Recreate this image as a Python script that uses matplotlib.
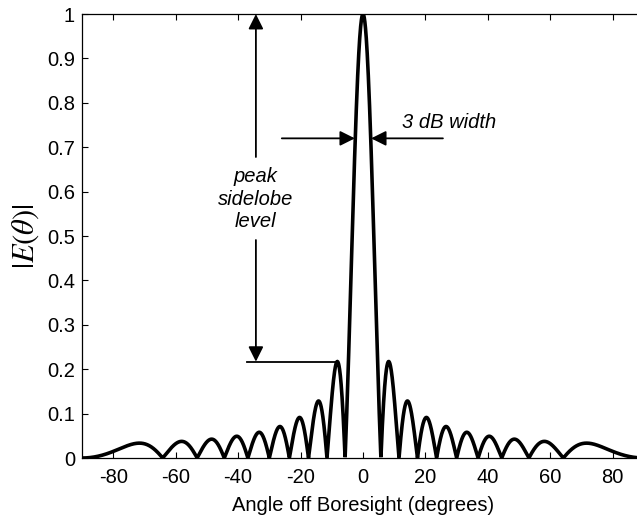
import numpy as np
import matplotlib
matplotlib.use("Agg")
import matplotlib.pyplot as plt
from matplotlib.patches import ArrowStyle

# ---- data ----
# Uniform aperture pattern: nulls every 0.1 in sin(theta) -> aperture of 10 wavelengths
aperture_wavelengths = 10.0
angle_deg = np.linspace(-90, 90, 3601)
field_mag = np.abs(np.sinc(aperture_wavelengths * np.sin(np.radians(angle_deg))))

x_ticks = [-80, -60, -40, -20, 0, 20, 40, 60, 80]
y_ticks = [0, 0.1, 0.2, 0.3, 0.4, 0.5, 0.6, 0.7, 0.8, 0.9, 1.0]
y_tick_labels = ["0", "0.1", "0.2", "0.3", "0.4", "0.5", "0.6", "0.7", "0.8", "0.9", "1"]

peak_level = 1.0
sidelobe_level = 0.217
sidelobe_angle = -8.2
half_power_level = 0.72
half_power_angles = [-2.6, 2.6]

plt.rcParams["font.family"] = ["Liberation Sans", "DejaVu Sans"]
plt.rcParams["mathtext.fontset"] = "stix"

fig = plt.figure(figsize=(6.37, 5.2), dpi=100)
ax = fig.add_axes([0.1287, 0.1192, 1.011 - 0.1287, 0.973 - 0.1192])

ax.plot(angle_deg, field_mag, color="black", lw=2.6, solid_joinstyle="miter")

ax.set_xlim(-90, 90)
ax.set_ylim(0, 1)
ax.set_xticks(x_ticks)
ax.set_xticklabels([str(t) for t in x_ticks])
ax.set_yticks(y_ticks)
ax.set_yticklabels(y_tick_labels)
ax.tick_params(direction="in", length=4, width=0.8, labelsize=14.5, top=True, right=True)
ax.tick_params(axis="x", pad=7)
ax.tick_params(axis="y", pad=5)
for s in ax.spines.values():
    s.set_linewidth(0.9)

ax.set_xlabel("Angle off Boresight (degrees)", fontsize=14.5, va="center")
ax.xaxis.set_label_coords(0.5, -0.106)
ax.set_ylabel(r"$|E(\theta)|$", fontsize=22, va="center")
ax.yaxis.set_label_coords(-0.101, 0.5)

head = ArrowStyle("-|>", head_length=0.6, head_width=0.3)
ap = dict(arrowstyle=head, mutation_scale=15, color="black", lw=1.3,
          shrinkA=0, shrinkB=0)

# peak sidelobe level annotation
x_arrow = -34.3
ax.annotate("", xy=(x_arrow, peak_level), xytext=(x_arrow, 0.678), arrowprops=ap)
ax.annotate("", xy=(x_arrow, sidelobe_level), xytext=(x_arrow, 0.491), arrowprops=ap)
ax.plot([-37.2, sidelobe_angle], [sidelobe_level, sidelobe_level], color="black", lw=1.3)
ax.text(x_arrow, 0.583, "peak\nsidelobe\nlevel", ha="center", va="center",
        fontsize=14.5, style="italic", linespacing=1.25)

# 3 dB width annotation
ax.annotate("", xy=(half_power_angles[0], half_power_level), xytext=(-26.0, half_power_level),
            arrowprops=ap)
ax.annotate("", xy=(half_power_angles[1], half_power_level), xytext=(25.6, half_power_level),
            arrowprops=ap)
ax.text(12.5, 0.755, "3 dB width", ha="left", va="center", fontsize=14.5, style="italic")

fig.savefig("out.png", dpi=100)
